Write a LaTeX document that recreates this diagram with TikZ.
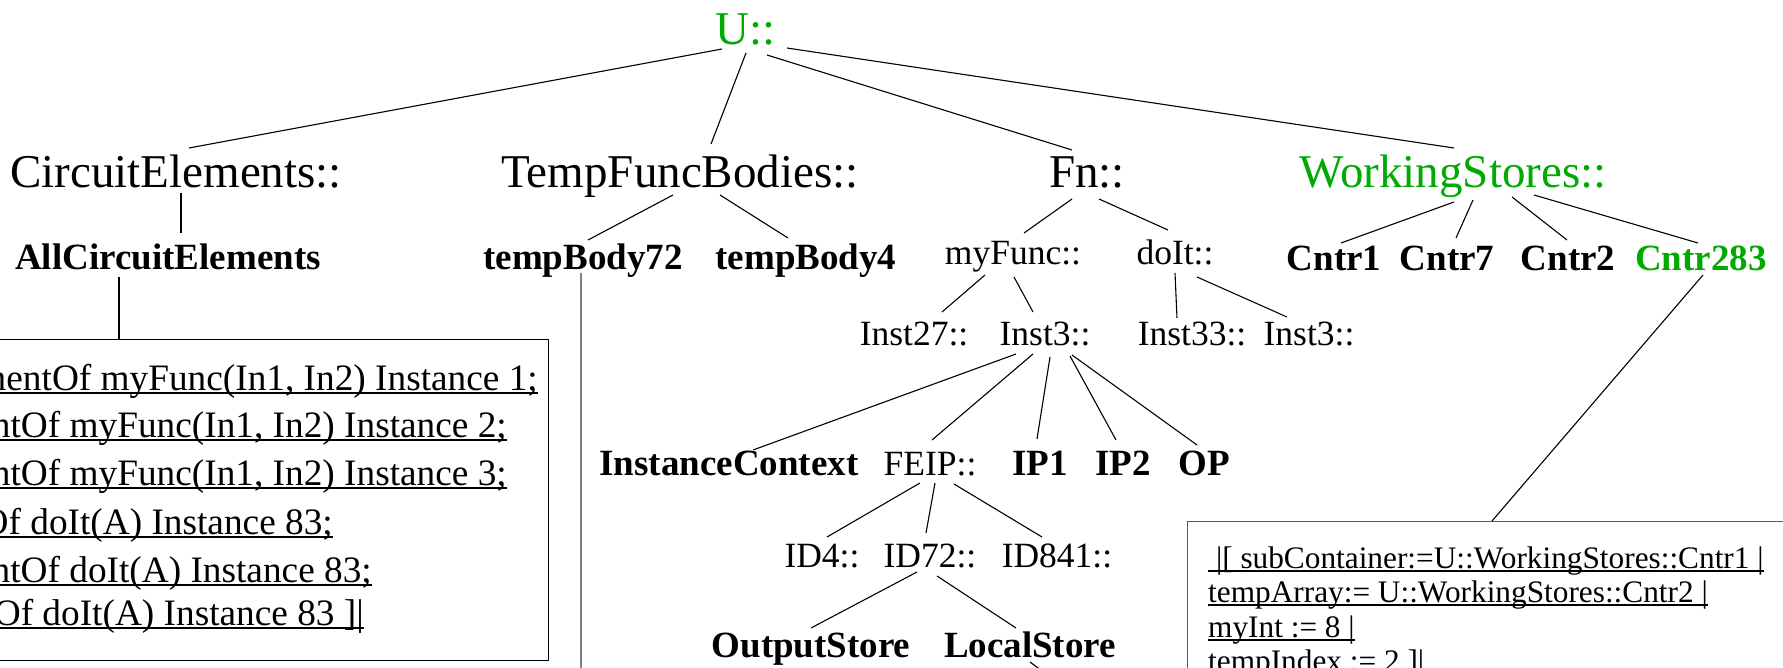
\documentclass[tikz,border=0pt]{standalone}
\usepackage{fontspec}
\setmainfont{Liberation Serif}
\definecolor{tgreen}{RGB}{0,170,0}
\newcommand{\myul}[1]{\setbox0\hbox{#1}\rlap{\rule[-4pt]{\wd0}{1.6pt}}\box0}
\begin{document}
\begin{tikzpicture}[x=1pt, y=-1pt,
  lbl/.style={inner sep=0pt, anchor=base},
  big/.style={lbl, font=\fontsize{47}{50}\selectfont},
  mid/.style={lbl, font=\fontsize{35.5}{40}\selectfont},
  bmid/.style={lbl, font=\fontsize{37}{40}\selectfont\bfseries},
  grn/.style={text=tgreen},
  link/.style={draw=black, line width=1.1pt},
  lt/.style={inner sep=0pt, anchor=base east, font=\fontsize{37.3}{44}\selectfont},
  rt/.style={inner sep=0pt, anchor=base west, font=\fontsize{31.3}{36}\selectfont},
  boxl/.style={draw=black, line width=1.4pt, inner sep=0pt, anchor=north east},
  boxr/.style={draw=black!65, line width=1.4pt, inner sep=0pt, anchor=north west}]
\useasboundingbox (0,0) rectangle (1783,668);
% tree nodes
\node[big, grn] (u) at (746,45) {U::};
\node[big] (ce) at (176,188) {CircuitElements::};
\node[big] (tfb) at (680,188) {TempFuncBodies::};
\node[big] (fn) at (1087,188) {Fn::};
\node[big, grn] (ws) at (1453,188) {WorkingStores::};
\node[bmid] (ace) at (168,270) {AllCircuitElements};
\node[bmid] (tb72) at (583,270) {tempBody72};
\node[bmid] (tb4) at (806,270) {tempBody4};
\node[mid] (myf) at (1013,265) {myFunc::};
\node[mid] (doit) at (1175,265) {doIt::};
\node[bmid] (c1) at (1334,271) {Cntr1};
\node[bmid] (c7) at (1447,271) {Cntr7};
\node[bmid] (c2) at (1568,271) {Cntr2};
\node[bmid, grn] (c283) at (1701,271) {Cntr283};
\node[mid] (i27) at (914,345) {Inst27::};
\node[mid] (i3) at (1045,345) {Inst3::};
\node[mid] (i33) at (1192,345) {Inst33::};
\node[mid] (i3b) at (1309,345) {Inst3::};
\node[bmid] (ic) at (729,475) {InstanceContext};
\node[mid] (feip) at (930,475) {FEIP::};
\node[bmid] (ip1) at (1040,475) {IP1};
\node[bmid] (ip2) at (1123,475) {IP2};
\node[bmid] (op) at (1204,475) {OP};
\node[mid] (id4) at (822,567) {ID4::};
\node[mid] (id72) at (930,567) {ID72::};
\node[mid] (id841) at (1057,567) {ID841::};
\node[bmid] (os) at (811,657) {OutputStore};
\node[bmid] (ls) at (1030,657) {LocalStore};
% boxes
\node[boxl, minimum width=580pt, minimum height=321pt] (lbox) at (549,339) {};
\node[boxr, minimum width=640pt, minimum height=200pt] (rbox) at (1187,521) {};
\node[lt] (l1) at (538,390) {\myul{mentOf myFunc(In1, In2) Instance 1;}};
\node[lt] (l2) at (507,437) {\myul{ntOf myFunc(In1, In2) Instance 2;}};
\node[lt] (l3) at (507,485) {\myul{ntOf myFunc(In1, In2) Instance 3;}};
\node[lt] (l4) at (333,534) {\myul{Of doIt(A) Instance 83;}};
\node[lt] (l5) at (372,582) {\myul{ntOf doIt(A) Instance 83;}};
\node[lt] (l6) at (364,625) {\myul{Of doIt(A) Instance 83 ]|}};
\node[rt] (r1) at (1208,568) {\myul{\ |[ subContainer:=U::WorkingStores::Cntr1 |}};
\node[rt] (r2) at (1208,602) {\myul{tempArray:= U::WorkingStores::Cntr2 |}};
\node[rt] (r3) at (1208,637) {\myul{myInt := 8 |}};
\node[rt] (r4) at (1208,671) {tempIndex := 2 ]|};
% helper coordinates
\coordinate (bot) at (0,672);
\coordinate (acefoot) at ([shift={(-49,0)}]ace.base);
\coordinate (tbfoot) at ([shift={(-2,0)}]tb72.base);
\coordinate (cfoot) at ([shift={(-209,0)}]c283.base);
\coordinate (lsend) at (1046,674);
% connectors
\draw[link] ([shift={(-24,4)}]u.base) -- ([shift={(13,-40)}]ce.base);
\draw[link] ([shift={(0,8)}]u.base) -- ([shift={(31,-44)}]tfb.base);
\draw[link] ([shift={(21,10)}]u.base) -- ([shift={(-15,-38)}]fn.base);
\draw[link] ([shift={(41,3)}]u.base) -- ([shift={(1,-40)}]ws.base);
\draw[link] ([shift={(5,5)}]ce.base) -- ([shift={(13,-37)}]ace.base);
\draw[link] ([shift={(-7,7)}]tfb.base) -- ([shift={(5,-30)}]tb72.base);
\draw[link] ([shift={(40,7)}]tfb.base) -- ([shift={(-18,-32)}]tb4.base);
\draw[link] ([shift={(-15,11)}]fn.base) -- ([shift={(11,-32)}]myf.base);
\draw[link] ([shift={(12,11)}]fn.base) -- ([shift={(-7,-35)}]doit.base);
\draw[link] ([shift={(1,14)}]ws.base) -- ([shift={(7,-28)}]c1.base);
\draw[link] ([shift={(20,12)}]ws.base) -- ([shift={(9,-33)}]c7.base);
\draw[link] ([shift={(59,9)}]ws.base) -- ([shift={(-1,-31)}]c2.base);
\draw[link] ([shift={(81,7)}]ws.base) -- ([shift={(-3,-28)}]c283.base);
\draw[link] ([shift={(-49,7)}]ace.base) -- (acefoot |- lbox.north);
\draw[draw=black!50, line width=2pt] ([shift={(-2,3)}]tb72.base) -- (tbfoot |- bot);
\draw[link] ([shift={(-28,10)}]myf.base) -- ([shift={(28,-33)}]i27.base);
\draw[link] ([shift={(1,12)}]myf.base) -- ([shift={(-12,-33)}]i3.base);
\draw[link] ([shift={(0,8)}]doit.base) -- ([shift={(-15,-27)}]i33.base);
\draw[link] ([shift={(22,12)}]doit.base) -- ([shift={(-22,-28)}]i3b.base);
\draw[link] ([shift={(-29,9)}]i3.base) -- ([shift={(24,-25)}]ic.base);
\draw[link] ([shift={(-12,9)}]i3.base) -- ([shift={(2,-35)}]feip.base);
\draw[link] ([shift={(5,12)}]i3.base) -- ([shift={(-3,-36)}]ip1.base);
\draw[link] ([shift={(25,11)}]i3.base) -- ([shift={(-7,-35)}]ip2.base);
\draw[link] ([shift={(27,10)}]i3.base) -- ([shift={(-7,-30)}]op.base);
\draw[link] ([shift={(2,4)}]c283.base) -- (cfoot |- rbox.north);
\draw[link] ([shift={(-10,8)}]feip.base) -- ([shift={(5,-30)}]id4.base);
\draw[link] ([shift={(5,8)}]feip.base) -- ([shift={(-4,-34)}]id72.base);
\draw[link] ([shift={(24,9)}]feip.base) -- ([shift={(-15,-30)}]id841.base);
\draw[link] ([shift={(-13,5)}]id72.base) -- ([shift={(0,-29)}]os.base);
\draw[link] ([shift={(7,9)}]id72.base) -- ([shift={(-14,-29)}]ls.base);
\draw[link] ([shift={(0,5)}]ls.base) -- (lsend);
\end{tikzpicture}
\end{document}
